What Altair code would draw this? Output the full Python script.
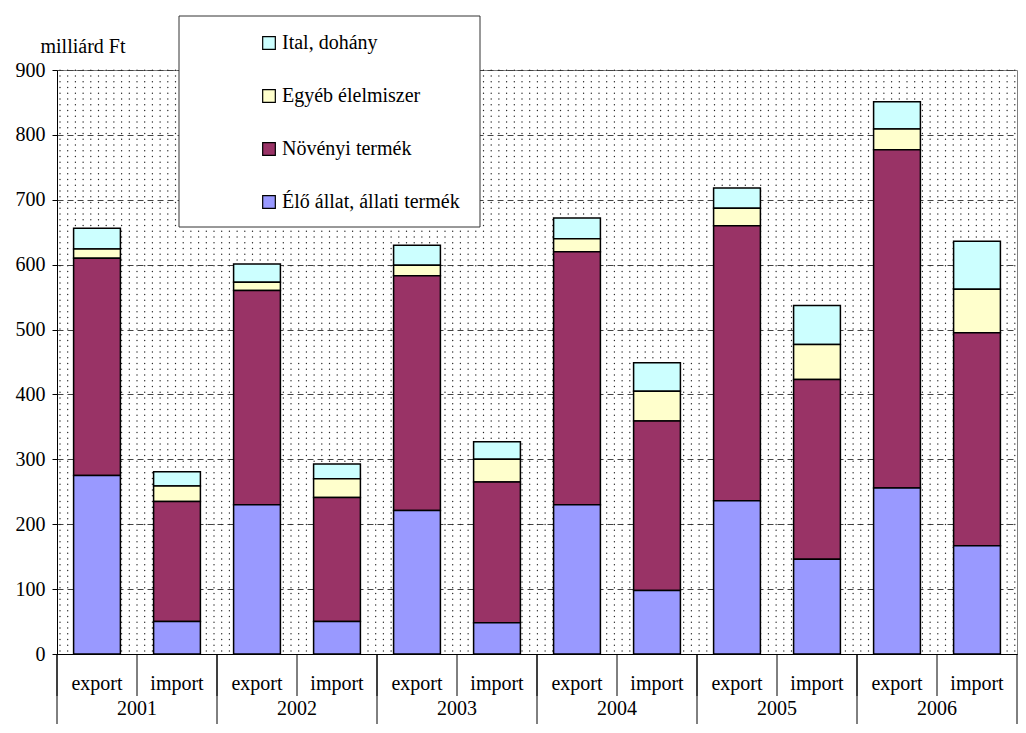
import altair as alt
import pandas as pd
import numpy as np

years = ["2001", "2002", "2003", "2004", "2005", "2006"]
flows = ["export", "import"]
categories = ["Ital, dohány", "Egyéb élelmiszer", "Növényi termék", "Élő állat, állati termék"]
colors = ["#CCFFFF", "#FFFFCC", "#993366", "#9999FF"]
stack_rank = [3, 2, 1, 0]

# one value per bar: 2001 export, 2001 import, 2002 export, ...
elo = [275, 50, 230, 50, 221, 48, 230, 98, 236, 146, 256, 167]
novenyi = [335, 185, 330, 191, 362, 217, 390, 261, 424, 277, 521, 328]
egyeb = [14, 24, 13, 29, 16, 35, 20, 46, 27, 54, 32, 67]
ital = [32, 22, 28, 23, 31, 27, 32, 44, 31, 60, 42, 74]
series = [ital, egyeb, novenyi, elo]

y_ticks = [0, 100, 200, 300, 400, 500, 600, 700, 800, 900]

W, H = 960, 584
FONT = "'Liberation Serif', 'Times New Roman', serif"
FS = 20

keys = [f"{y} {f}" for y in years for f in flows]

rows = []
for ci, cat in enumerate(categories):
    for ki, k in enumerate(keys):
        rows.append({"key": k, "cat": cat, "value": series[ci][ki], "ord": stack_rank[ci]})
df = pd.DataFrame(rows)

lab_df = pd.DataFrame({"key": keys, "flow": [k.split(" ")[1] for k in keys]})
year_df = pd.DataFrame({"key": [f"{y} export" for y in years], "year": years})
last_df = pd.DataFrame({"key": [keys[-1]]})

# decorative dotted background texture
gx = np.arange(3, W, 7.7)
gy = np.arange(3, H, 5.75)
dots = pd.DataFrame([(a, b) for a in gx for b in gy], columns=["dx", "dy"])

band0 = alt.Scale(domain=keys, paddingInner=0, paddingOuter=0)
yband = alt.Scale(domain=years, paddingInner=0, paddingOuter=0)

dot_layer = alt.Chart(dots).mark_circle(size=1.8, color="#222222", opacity=1).encode(
    x=alt.X("dx:Q", scale=alt.Scale(domain=[0, W], nice=False, zero=False), axis=None),
    y=alt.Y("dy:Q", scale=alt.Scale(domain=[0, H], nice=False, zero=False), axis=None),
)

bars = alt.Chart(df).mark_bar(stroke="black", strokeWidth=1.5).encode(
    x=alt.X("key:N", sort=keys,
            scale=alt.Scale(domain=keys, paddingInner=0.415, paddingOuter=0.2075),
            axis=alt.Axis(labels=False, ticks=False, title=None, domainColor="black",
                          domainWidth=1, grid=False)),
    y=alt.Y("value:Q", stack="zero",
            scale=alt.Scale(domain=[0, 900], nice=False),
            axis=alt.Axis(values=y_ticks, title="milliárd Ft", titleAngle=0,
                          titleX=-17, titleY=-24, titleAlign="left", titleBaseline="middle",
                          titleFont=FONT, titleFontSize=FS, titleFontWeight="normal",
                          titleColor="black",
                          labelFont=FONT, labelFontSize=FS, labelColor="black",
                          labelPadding=7, tickSize=5, tickColor="black",
                          domainColor="black", grid=True, gridColor="#444444",
                          gridDash=[6, 4], gridWidth=1)),
    color=alt.Color("cat:N", scale=alt.Scale(domain=categories, range=colors),
                    legend=alt.Legend(title=None, orient="none", legendX=202, legendY=-37,
                                      direction="vertical", symbolType="square",
                                      symbolSize=160, symbolStrokeColor="black",
                                      symbolStrokeWidth=1.2, symbolOpacity=1,
                                      labelFont=FONT, labelFontSize=FS, labelColor="black",
                                      labelOffset=3, rowPadding=33, labelLimit=400)),
    order=alt.Order("ord:Q"),
)

legend_box = alt.Chart(last_df).mark_rect(fill="white", stroke="#333333", strokeWidth=1).encode(
    x=alt.value(122), x2=alt.value(423), y=alt.value(-54), y2=alt.value(157)
)

short_rules = alt.Chart(lab_df).mark_rule(color="black", strokeWidth=1).encode(
    x=alt.X("key:N", sort=keys, scale=band0, bandPosition=0, axis=None),
    y=alt.value(H), y2=alt.value(H + 42),
)

year_rules = alt.Chart(year_df).mark_rule(color="black", strokeWidth=1).encode(
    x=alt.X("year:N", sort=years, scale=yband, bandPosition=0, axis=None),
    y=alt.value(H), y2=alt.value(H + 70),
)

end_rule = alt.Chart(last_df).mark_rule(color="black", strokeWidth=1).encode(
    x=alt.X("key:N", sort=keys, scale=band0, bandPosition=1, axis=None),
    y=alt.value(H), y2=alt.value(H + 70),
)

flow_text = alt.Chart(lab_df).mark_text(font=FONT, fontSize=FS, color="black",
                                        baseline="middle").encode(
    x=alt.X("key:N", sort=keys, scale=band0, axis=None),
    y=alt.value(H + 30),
    text="flow:N",
)

year_text = alt.Chart(year_df).mark_text(font=FONT, fontSize=FS, color="black",
                                         baseline="middle").encode(
    x=alt.X("year:N", sort=years, scale=yband, axis=None),
    y=alt.value(H + 55),
    text="year:N",
)

chart = alt.layer(
    dot_layer, bars, legend_box, short_rules, year_rules, end_rule, flow_text, year_text
).resolve_scale(x="independent", y="independent").properties(
    width=W, height=H,
    padding={"left": 7, "top": 7, "right": 0, "bottom": 0},
    background="white",
).configure_view(stroke="#808080", strokeWidth=1)

chart.save("out.html", embed_options={"renderer": "svg", "actions": False})
